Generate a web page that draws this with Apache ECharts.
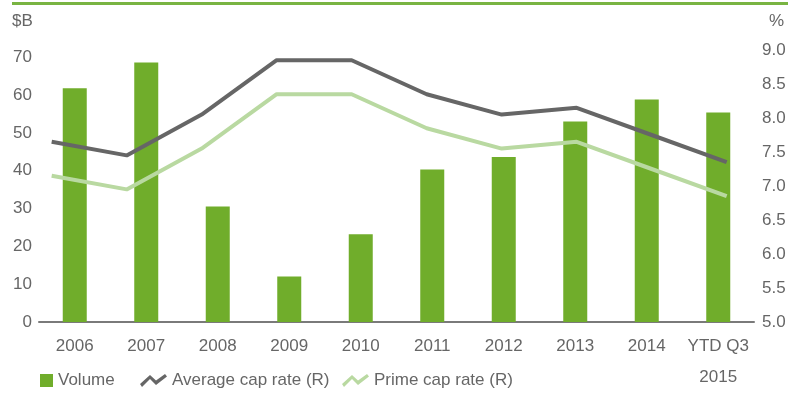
<!DOCTYPE html>
<html>
<head>
<meta charset="utf-8">
<script src="https://cdn.jsdelivr.net/npm/echarts@6/dist/echarts.min.js"></script>
<style>
  html, body { margin: 0; padding: 0; background: #fff; }
  #chart { width: 791px; height: 393px; }
</style>
</head>
<body>
<div id="chart"></div>
<script>
// Investment volume ($B) and cap rates (%), 2006 – YTD Q3 2015
const categories = ['2006', '2007', '2008', '2009', '2010', '2011', '2012', '2013', '2014', 'YTD Q3\n2015'];
const volume = [61.8, 68.6, 30.5, 12.0, 23.2, 40.3, 43.6, 53.0, 58.8, 55.4];
const averageCapRate = [7.65, 7.45, 8.05, 8.85, 8.85, 8.35, 8.05, 8.15, 7.75, 7.35];
const primeCapRate = [7.15, 6.95, 7.55, 8.35, 8.35, 7.85, 7.55, 7.65, 7.25, 6.85];
const leftTicks = [0, 10, 20, 30, 40, 50, 60, 70];
const rightTicks = [5.0, 5.5, 6.0, 6.5, 7.0, 7.5, 8.0, 8.5, 9.0];

const FONT = 'Liberation Sans';
const TEXT = '#666666';
const BAR = '#70ad2b';
const AVG = '#666666';
const PRIME = '#b9d9a1';
const zigzag = 'path://M0,10 L10,1 L16,6.5 L25,0 L27,2.5 L16,11 L10,5 L2,13 Z';

const chart = echarts.init(document.getElementById('chart'), null, { renderer: 'canvas' });

const legendBase = {
  orient: 'horizontal',
  top: 372,
  padding: 0,
  textStyle: { fontFamily: FONT, fontSize: 17, color: TEXT },
  selectedMode: false
};

chart.setOption({
  animation: false,
  backgroundColor: '#ffffff',
  textStyle: { fontFamily: FONT },
  graphic: [
    { type: 'rect', shape: { x: 12, y: 2, width: 776, height: 3 }, style: { fill: '#79b442' } },
    { type: 'text', left: 12, top: 13, style: { text: '$B', fontFamily: FONT, fontSize: 17, fill: TEXT } },
    { type: 'text', left: 769, top: 13, style: { text: '%', fontFamily: FONT, fontSize: 17, fill: TEXT } }
  ],
  legend: [
    Object.assign({}, legendBase, {
      left: 40, itemWidth: 13, itemHeight: 13,
      data: [{ name: 'Volume', icon: 'rect' }]
    }),
    Object.assign({}, legendBase, {
      left: 140, itemWidth: 27, itemHeight: 13,
      data: [{ name: 'Average cap rate (R)', icon: zigzag, itemStyle: { color: AVG } }]
    }),
    Object.assign({}, legendBase, {
      left: 342, itemWidth: 27, itemHeight: 13,
      data: [{ name: 'Prime cap rate (R)', icon: zigzag, itemStyle: { color: PRIME } }]
    })
  ],
  grid: { left: 39, right: 37, top: 50, bottom: 63, containLabel: false },
  xAxis: [
    {
      type: 'category',
      data: categories,
      boundaryGap: true,
      axisTick: { show: false },
      axisLine: { lineStyle: { color: '#7a7a7a', width: 2 } },
      axisLabel: { color: TEXT, fontFamily: FONT, fontSize: 17, margin: 9, lineHeight: 31, interval: 0 }
    },
    {
      // index scale shared by both cap-rate lines
      type: 'value',
      min: -0.169,
      max: 9.364,
      show: false
    }
  ],
  yAxis: [
    {
      type: 'value',
      min: leftTicks[0],
      max: 71.9,
      interval: 10,
      splitLine: { show: false },
      axisLine: { show: false },
      axisTick: { show: false },
      axisLabel: { showMaxLabel: false, color: TEXT, fontFamily: FONT, fontSize: 17, margin: 7 }
    },
    {
      type: 'value',
      position: 'right',
      min: rightTicks[0],
      max: rightTicks[rightTicks.length - 1],
      interval: 0.5,
      splitLine: { show: false },
      axisLine: { show: false },
      axisTick: { show: false },
      axisLabel: { color: TEXT, fontFamily: FONT, fontSize: 17, margin: 8, formatter: v => v.toFixed(1) }
    }
  ],
  series: [
    {
      name: 'Volume',
      type: 'bar',
      data: volume,
      xAxisIndex: 0,
      yAxisIndex: 0,
      barWidth: 24,
      itemStyle: { color: BAR },
      z: 1
    },
    {
      name: 'Average cap rate (R)',
      type: 'line',
      data: averageCapRate.map((v, i) => [i, v]),
      xAxisIndex: 1,
      yAxisIndex: 1,
      symbol: 'none',
      lineStyle: { color: AVG, width: 4 },
      itemStyle: { color: AVG },
      z: 3
    },
    {
      name: 'Prime cap rate (R)',
      type: 'line',
      data: primeCapRate.map((v, i) => [i, v]),
      xAxisIndex: 1,
      yAxisIndex: 1,
      symbol: 'none',
      lineStyle: { color: PRIME, width: 4 },
      itemStyle: { color: PRIME },
      z: 2
    }
  ]
});
</script>
</body>
</html>
